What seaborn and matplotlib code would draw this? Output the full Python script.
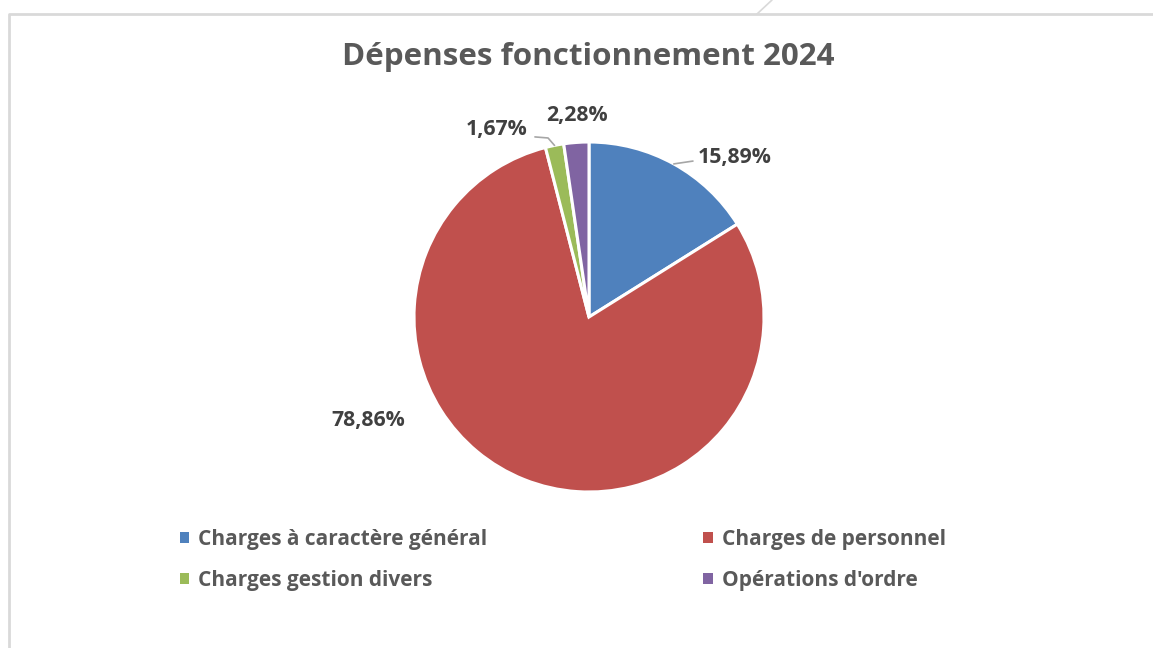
import matplotlib
matplotlib.use("Agg")
import matplotlib.pyplot as plt
from matplotlib.patches import Patch
from matplotlib.lines import Line2D
import numpy as np
import seaborn as sns

# ---- data ----
title = "Dépenses fonctionnement 2024"
categories = ["Charges à caractère général", "Charges de personnel",
              "Charges gestion divers", "Opérations d'ordre"]
values = [15.89, 78.86, 1.67, 2.28]
value_labels = ["15,89%", "78,86%", "1,67%", "2,28%"]

# ---- style ----
colors = ["#4F81BD", "#C0504D", "#9BBB59", "#8064A2"]
sns.set_theme(style="white")
palette = sns.color_palette(colors)
plt.rcParams["font.family"] = ["Open Sans", "DejaVu Sans"]
plt.rcParams["font.weight"] = "bold"

W, H = 1153, 648
fig = plt.figure(figsize=(W / 100, H / 100), dpi=100)
fig.patch.set_facecolor("white")

# frame border and small diagonal artifact
fig.add_artist(Line2D([9 / W, 9 / W, 1.01], [-0.01, 1 - 14 / H, 1 - 14 / H],
                      transform=fig.transFigure, color="#d9d9d9", lw=2))
fig.add_artist(Line2D([772 / W, 757 / W], [1.0, 1 - 14 / H],
                      transform=fig.transFigure, color="#d9d9d9", lw=1.2))

# pie axes: centre (589,317) px, radius 175 px
a = 1.5
R = 175
cx, cy = 589, 317
side = 2 * a * R
ax = fig.add_axes([(cx - side / 2) / W, (H - cy - side / 2) / H, side / W, side / H])
wedges, _ = ax.pie(values, colors=palette, startangle=90, counterclock=False,
                   radius=1.0, wedgeprops=dict(edgecolor="white", linewidth=2.2))
ax.set_xlim(-a, a)
ax.set_ylim(-a, a)
ax.set_aspect("equal")
ax.axis("off")

label_color = "#404040"
lab_kw = dict(fontsize=15.3, fontweight="bold", color=label_color, va="center")

def mid_point(w, r=1.0):
    ang = np.deg2rad((w.theta1 + w.theta2) / 2)
    return r * np.cos(ang), r * np.sin(ang)

# label positions (data units, R = 1)
label_pos = [(0.623, 0.914), (-1.263, -0.589), (-0.35, 1.069), (-0.069, 1.154)]
label_ha = ["left", "center", "right", "center"]
for i, (txt, pos, ha) in enumerate(zip(value_labels, label_pos, label_ha)):
    ax.text(pos[0], pos[1], txt, ha=ha, clip_on=False, **lab_kw)

# leader lines
lc = "#a6a6a6"
x0, y0 = mid_point(wedges[0])
ax.plot([x0, 0.594], [y0, 0.891], color=lc, lw=1.2, clip_on=False)
x2, y2 = mid_point(wedges[2])
ax.plot([x2, -0.234, -0.309], [y2, 1.023, 1.029], color=lc, lw=1.2, clip_on=False)

# title
fig.text(588 / W, 1 - 57 / H, title, ha="center", va="center",
         fontsize=22.6, fontweight="bold", color="#595959")

# legend (row-major order: matplotlib fills columns first)
order = [0, 2, 1, 3]
handles = [Patch(facecolor=palette[i], edgecolor="none") for i in order]
labels = [categories[i] for i in order]
leg = fig.legend(handles, labels,
                 ncol=2, loc="center left", bbox_to_anchor=(161 / W, 1 - 560 / H),
                 frameon=False, handlelength=0.45, handleheight=0.45,
                 handletextpad=0.45, columnspacing=10.35, labelspacing=0.98,
                 prop=dict(size=15, weight="bold"))
for t in leg.get_texts():
    t.set_color("#595959")

fig.savefig("out.png", dpi=100, facecolor="white")
